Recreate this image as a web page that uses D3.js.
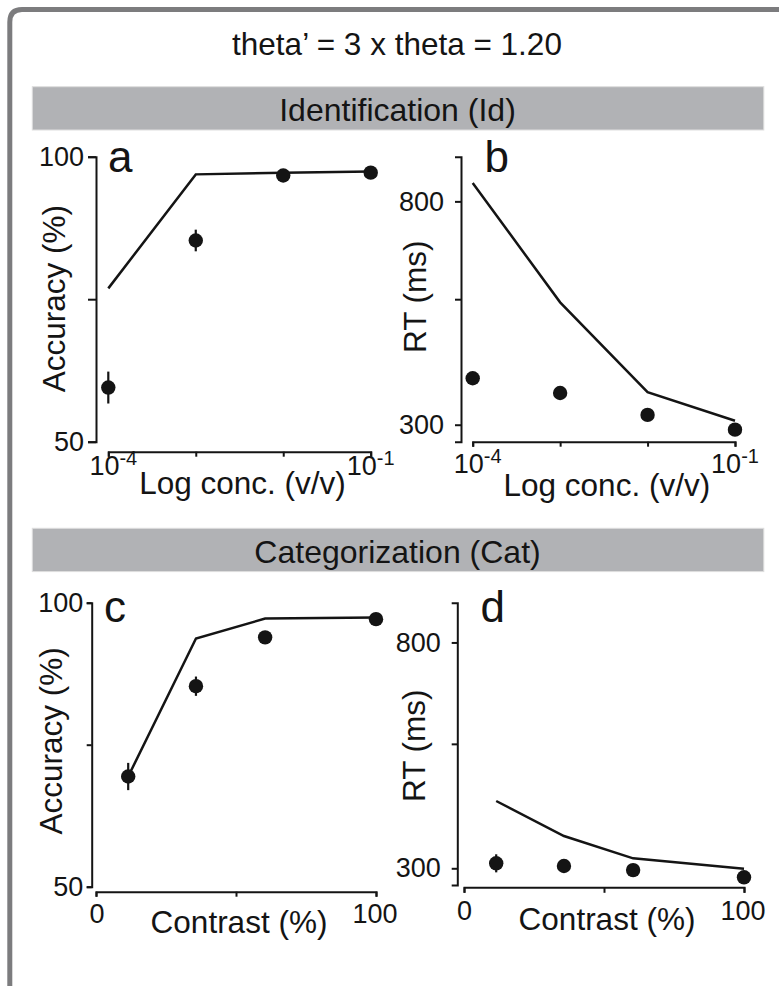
<!DOCTYPE html>
<html>
<head>
<meta charset="utf-8">
<script src="https://cdn.jsdelivr.net/npm/d3@7"></script>
<style>
  body { margin: 0; background: #fff; }
  text { font-family: "Liberation Sans", Arial, Helvetica, sans-serif; fill: #141414; }
</style>
</head>
<body>
<svg id="fig" width="779" height="986"></svg>
<script>
// ---- values ---------------------------------------------------------------
const concLevels     = [1e-4, 1e-3, 1e-2, 1e-1];   // odor concentration (v/v)
const idAccModel     = [76.9, 96.9, 97.2, 97.4];
const idAccObs       = [59.5, 85.3, 96.7, 97.2];
const idAccSem       = [2.8, 1.9, 0, 0];
const idRtModel      = [841, 574, 373, 309];
const idRtObs        = [404, 371, 322, 289];
const idRtSem        = [0, 0, 0, 0];

const contrastLevels = [11.5, 35.7, 60.4, 100];    // mixture contrast (%)
const catAccModel    = [69.4, 93.7, 97.2, 97.4];
const catAccObs      = [69.4, 85.3, 93.9, 97.1];
const catAccSem      = [2.4, 1.7, 0, 0];
const catRtModel     = [449, 371.5, 322, 299];
const catRtObs       = [311, 305, 296, 280];
const catRtSem       = [20, 0, 0, 0];

const concTicks      = [1e-4, 1e-3, 1e-2, 1e-1];
const concTickExp    = ["-4", "", "", "-1"];
const contrastTicks  = [0, 50, 100];
const contrastLabels = ["0", "", "100"];
const accTicks       = [50, 75, 100];
const accLabels      = ["50", "", "100"];
const rtLabelled     = [300, 800];

const titleText  = "theta\u2019 = 3 x theta = 1.20";
const sectionIds = ["Identification (Id)", "Categorization (Cat)"];

// ---- figure ---------------------------------------------------------------
const svg = d3.select("#fig");
const INK = "#141414";
const TICK_FS = 27, TITLE_FS = 31.5, LETTER_FS = 44;

// outer frame (runs off the right and bottom edges)
svg.append("path")
  .attr("d", "M9.8,986 L9.8,22 Q9.8,9.5 22,9.5 L779,9.5")
  .attr("fill", "none").attr("stroke", "#7c7c7e").attr("stroke-width", 5);

svg.append("text").attr("x", 397).attr("y", 55)
  .attr("text-anchor", "middle").attr("font-size", 31.5).text(titleText);

// grey section banners
[[86.7, sectionIds[0]], [528.3, sectionIds[1]]].forEach(([top, label]) => {
  svg.append("rect").attr("x", 32.3).attr("y", top).attr("width", 731.5).attr("height", 43.3)
    .attr("fill", "#b1b2b5").attr("stroke", "#dedede").attr("stroke-width", 1);
  svg.append("text").attr("x", 397.5).attr("y", top + 34.5)
    .attr("text-anchor", "middle").attr("font-size", 32).text(label);
});

function drawPanel(p) {
  const g = svg.append("g");
  const x = (p.xLog ? d3.scaleLog() : d3.scaleLinear()).domain(p.xDomain).range(p.xRange);
  const y = d3.scaleLinear().domain(p.yDomain).range(p.yRange);

  // y axis: labelled ticks plus an unlabelled middle tick
  const yMid = (p.yDomain[0] + p.yDomain[1]) / 2;
  const yTicks = p.yTicks || [p.yLabelled[0], yMid, p.yLabelled[1]];
  const yAxis = d3.axisLeft(y).tickValues(yTicks).tickSizeOuter(0)
    .tickSize(p.yTickLen).tickPadding(p.yPad)
    .tickFormat((d, i) => p.yLabels ? p.yLabels[i] : (d === yMid ? "" : String(d)));
  const ya = g.append("g").attr("transform", `translate(${p.yAxisX},0)`).call(yAxis);
  ya.attr("font-size", TICK_FS).attr("font-family", null);
  ya.selectAll("text").attr("fill", INK);

  // x axis
  const xAxis = d3.axisBottom(x).tickValues(p.xTicks).tickSizeOuter(0)
    .tickSize(p.xTickLen).tickFormat("");
  const xa = g.append("g").attr("transform", `translate(0,${p.xAxisY})`).call(xAxis);

  [ya, xa].forEach(a => {
    a.selectAll("path, line").attr("stroke", INK).attr("stroke-width", 2);
  });

  // x tick labels
  p.xTicks.forEach((v, i) => {
    const base = p.xLog ? "10" : p.xLabels[i];
    const exp = p.xLog ? p.xExp[i] : "";
    if (!base || (p.xLog && !exp)) return;
    const t = g.append("text").attr("x", x(v) + p.xLabDx[i]).attr("y", p.xLabY)
      .attr("text-anchor", "middle").attr("font-size", TICK_FS).text(base);
    if (exp) t.append("tspan").attr("dy", -10).attr("font-size", 20).text(exp);
  });

  // axis titles
  g.append("text").attr("x", (p.xRange[0] + p.xRange[1]) / 2 + 3).attr("y", p.xTitleY)
    .attr("text-anchor", "middle").attr("font-size", TITLE_FS).text(p.xTitle);
  g.append("text")
    .attr("transform", `translate(${p.yTitleX},${p.yTitleY}) rotate(-90)`)
    .attr("text-anchor", "middle").attr("font-size", TITLE_FS).text(p.yTitle);

  // panel letter
  g.append("text").attr("x", p.letterX).attr("y", p.letterY)
    .attr("font-size", LETTER_FS).text(p.letter);

  // model curve
  const line = d3.line().x((d, i) => x(p.xs[i])).y(d => y(d));
  g.append("path").datum(p.model).attr("d", line)
    .attr("fill", "none").attr("stroke", INK).attr("stroke-width", 2.5)
    .attr("stroke-linejoin", "miter");

  // observed means with error bars
  p.obs.forEach((v, i) => {
    if (p.sem[i] > 0) {
      g.append("line").attr("x1", x(p.xs[i])).attr("x2", x(p.xs[i]))
        .attr("y1", y(v - p.sem[i])).attr("y2", y(v + p.sem[i]))
        .attr("stroke", INK).attr("stroke-width", 2.2);
    }
    g.append("circle").attr("cx", x(p.xs[i])).attr("cy", y(v)).attr("r", 7.2).attr("fill", INK);
  });
}

// a: identification accuracy
drawPanel({
  letter: "a", letterX: 108, letterY: 171.7,
  xLog: true, xDomain: [1e-4, 1e-1], xRange: [108.3, 370.7], xAxisY: 451.7, xTickLen: 5,
  xTicks: concTicks, xExp: concTickExp, xLabY: 475, xLabDx: [5, 0, 0, 0],
  xTitle: "Log conc. (v/v)", xTitleY: 494,
  yDomain: [50, 100], yRange: [441.7, 156.7], yAxisX: 96, yTickLen: 8, yPad: 4,
  yTicks: accTicks, yLabels: accLabels,
  yTitle: "Accuracy (%)", yTitleX: 65, yTitleY: 298.7,
  xs: concLevels, model: idAccModel, obs: idAccObs, sem: idAccSem
});

// b: identification reaction time
drawPanel({
  letter: "b", letterX: 484.5, letterY: 171.7,
  xLog: true, xDomain: [1e-4, 1e-1], xRange: [472.7, 735], xAxisY: 441.7, xTickLen: 5,
  xTicks: concTicks, xExp: concTickExp, xLabY: 473, xLabDx: [5, 0, 0, 0],
  xTitle: "Log conc. (v/v)", xTitleY: 496,
  yDomain: [262, 900], yRange: [441.7, 156.7], yAxisX: 461, yTickLen: 6, yPad: 11,
  yLabelled: rtLabelled,
  yTitle: "RT (ms)", yTitleX: 426, yTitleY: 296.7,
  xs: concLevels, model: idRtModel, obs: idRtObs, sem: idRtSem
});

// c: categorization accuracy
drawPanel({
  letter: "c", letterX: 104, letterY: 621.7,
  xLog: false, xDomain: [0, 100], xRange: [96, 376], xAxisY: 891.7, xTickLen: 5,
  xTicks: contrastTicks, xLabels: contrastLabels, xLabY: 923, xLabDx: [1, 0, -1],
  xTitle: "Contrast (%)", xTitleY: 933,
  yDomain: [50, 100], yRange: [886.7, 602.7], yAxisX: 91.7, yTickLen: 5, yPad: 3.5,
  yTicks: accTicks, yLabels: accLabels,
  yTitle: "Accuracy (%)", yTitleX: 62, yTitleY: 740.8,
  xs: contrastLevels, model: catAccModel, obs: catAccObs, sem: catAccSem
});

// d: categorization reaction time
drawPanel({
  letter: "d", letterX: 480.5, letterY: 621.7,
  xLog: false, xDomain: [0, 100], xRange: [464, 744], xAxisY: 887.3, xTickLen: 5.5,
  xTicks: contrastTicks, xLabels: contrastLabels, xLabY: 920, xLabDx: [0.5, 0, -1],
  xTitle: "Contrast (%)", xTitleY: 930,
  yDomain: [263, 888], yRange: [885, 602.7], yAxisX: 457.3, yTickLen: 5.6, yPad: 11,
  yLabelled: rtLabelled,
  yTitle: "RT (ms)", yTitleX: 425, yTitleY: 745.7,
  xs: contrastLevels, model: catRtModel, obs: catRtObs, sem: catRtSem
});
</script>
</body>
</html>
